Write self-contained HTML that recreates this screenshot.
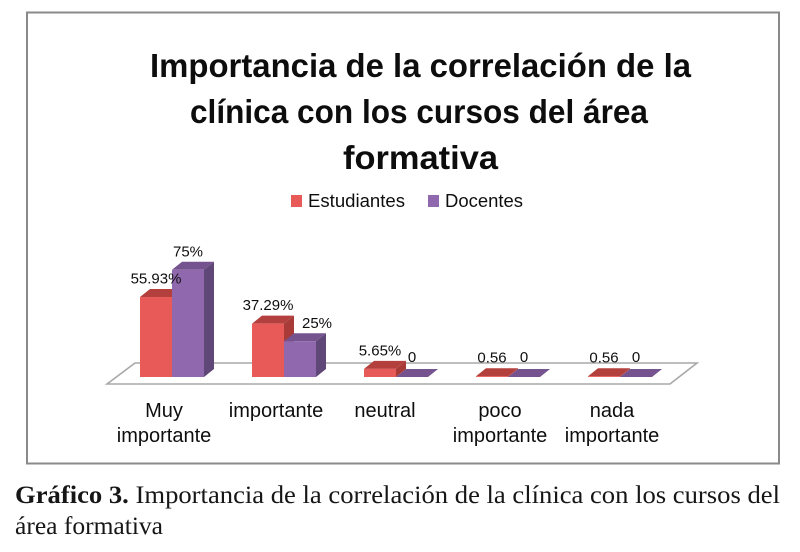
<!DOCTYPE html>
<html lang="es">
<head>
<meta charset="utf-8">
<title>Importancia de la correlación de la clínica con los cursos del área formativa</title>
<style>
html,body{margin:0;padding:0;background:#fff;width:800px;height:552px;overflow:hidden}
svg{display:block}
.sans{font-family:"Liberation Sans",sans-serif;fill:#111}
.serif{font-family:"Liberation Serif",serif;fill:#161616}
</style>
</head>
<body>
<svg id="chart" xmlns="http://www.w3.org/2000/svg" width="800" height="552" viewBox="0 0 800 552">
  <defs><filter id="soft" x="-2%" y="-2%" width="104%" height="104%"><feGaussianBlur stdDeviation="0.35"/></filter></defs>
  <rect x="0" y="0" width="800" height="552" fill="#fff"/>
  <g filter="url(#soft)">
    <rect x="27" y="12.5" width="752" height="451" fill="#fff" stroke="#8a8a8a" stroke-width="2"/>
    <g class="sans" font-weight="700" font-size="33" text-anchor="start">
      <text x="150" y="77" textLength="541" lengthAdjust="spacingAndGlyphs">Importancia de la correlación de la</text>
      <text x="190" y="123" textLength="458" lengthAdjust="spacingAndGlyphs">clínica con los cursos del área</text>
      <text x="343" y="169" textLength="155" lengthAdjust="spacingAndGlyphs">formativa</text>
    </g>
    <g>
      <rect x="291" y="195" width="11" height="12" fill="#e85a58"/>
      <text class="sans" x="308" y="207" font-size="18" textLength="97" lengthAdjust="spacingAndGlyphs">Estudiantes</text>
      <rect x="428" y="195" width="11" height="12" fill="#9068ad"/>
      <text class="sans" x="445" y="207" font-size="18" textLength="78" lengthAdjust="spacingAndGlyphs">Docentes</text>
    </g>
    <polygon points="107,384 135,363 697,363 670,384" fill="#fff" stroke="#a8a8a8" stroke-width="1.6"/>
    <g id="bars"></g>
    <g id="value-labels"></g>
    <g id="category-labels"></g>
  </g>
  <g class="serif" font-size="25.5">
    <text x="15" y="503" textLength="765" lengthAdjust="spacingAndGlyphs"><tspan font-weight="700">Gráfico 3.</tspan> Importancia de la correlación de la clínica con los cursos del</text>
    <text x="15" y="534" textLength="148" lengthAdjust="spacingAndGlyphs">área formativa</text>
  </g>
</svg>
<script>
const categories = [["Muy", "importante"], ["importante"], ["neutral"], ["poco", "importante"], ["nada", "importante"]];
const seriesNames = ["estudiantes", "docentes"];
const estudiantes = [55.93, 37.29, 5.65, 0.56, 0.56];
const docentes = [75, 25, 0, 0, 0];
const estudiantesLabels = ["55.93%", "37.29%", "5.65%", "0.56", "0.56"];
const docentesLabels = ["75%", "25%", "0", "0", "0"];

const NS = "http://www.w3.org/2000/svg";
const baseY = 377, unit = 1.43, firstX = 140, groupStep = 112, barW = 32, depthX = 10, depthY = 8;
const palettes = [
  { front: "#e85a58", top: "#b43f3d", side: "#a83a38" },
  { front: "#9068ad", top: "#74528f", side: "#5f4677" }
];
function xPos(cat, ser) { return firstX + cat * groupStep + ser * barW; }
function yPos(val) { return baseY - val * unit; }
function poly(parent, pts, fill) {
  const el = document.createElementNS(NS, "polygon");
  el.setAttribute("points", pts.map(p => p.join(",")).join(" "));
  el.setAttribute("fill", fill);
  parent.appendChild(el);
  return el;
}
function label(parent, x, y, size, str) {
  const el = document.createElementNS(NS, "text");
  el.setAttribute("x", x);
  el.setAttribute("y", y);
  el.setAttribute("font-size", size);
  el.setAttribute("text-anchor", "middle");
  el.setAttribute("class", "sans");
  el.textContent = str;
  parent.appendChild(el);
  return el;
}
const barsLayer = document.getElementById("bars");
const valueLayer = document.getElementById("value-labels");
const categoryLayer = document.getElementById("category-labels");
[estudiantes, docentes].forEach(function (values, s) {
  const texts = s === 0 ? estudiantesLabels : docentesLabels;
  values.forEach(function (v, c) {
    const x = xPos(c, s), y = yPos(v), pal = palettes[s];
    const g = document.createElementNS(NS, "g");
    
    
    poly(g, [[x + barW, y], [x + barW + depthX, y - depthY], [x + barW + depthX, baseY - depthY], [x + barW, baseY]], pal.side);
    poly(g, [[x, y], [x + depthX, y - depthY], [x + barW + depthX, y - depthY], [x + barW, y]], pal.top);
    const front = document.createElementNS(NS, "rect");
    front.setAttribute("x", x);
    front.setAttribute("y", y);
    front.setAttribute("width", barW);
    front.setAttribute("height", Math.max(baseY - y, 0));
    front.setAttribute("fill", pal.front);
    g.appendChild(front);
    barsLayer.appendChild(g);

    const nudge = (s === 1 && c === 1) ? 17 : 0;
    const lift = v === 0 ? 15 : 13.5;
    const t = label(valueLayer, x + barW / 2 + nudge, y - lift, 15, texts[c]);
    
    
  });
});
categories.forEach(function (lines, c) {
  const cx = xPos(c, 1) - 8 + (c === 2 ? -3 : 0);
  lines.forEach(function (line, i) {
    const t = label(categoryLayer, cx, 417 + i * 25, 20, line);
    
    
  });
});
</script>
</body>
</html>
